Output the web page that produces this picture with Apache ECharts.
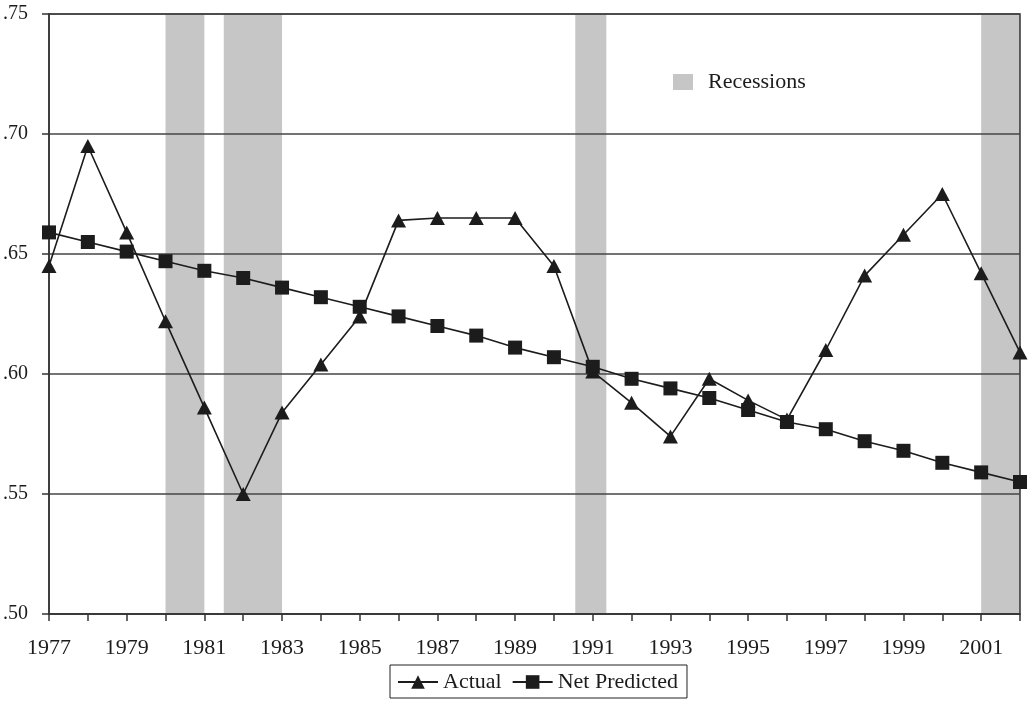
<!DOCTYPE html>
<html>
<head>
<meta charset="utf-8">
<script src="https://cdn.jsdelivr.net/npm/echarts@6/dist/echarts.min.js"></script>
<style>
  html, body { margin: 0; padding: 0; background: #fff; }
  #chart { width: 1028px; height: 701px; }
</style>
</head>
<body>
<div id="chart"></div>
<script>
// years on the x axis
const years = [1977, 1978, 1979, 1980, 1981, 1982, 1983, 1984, 1985, 1986, 1987, 1988, 1989,
  1990, 1991, 1992, 1993, 1994, 1995, 1996, 1997, 1998, 1999, 2000, 2001, 2002]

const actual = [0.645, 0.695, 0.659, 0.622, 0.586, 0.550, 0.584, 0.604, 0.624, 0.664, 0.665, 0.665, 0.665,
  0.645, 0.601, 0.588, 0.574, 0.598, 0.589, 0.581, 0.610, 0.641, 0.658, 0.675, 0.642, 0.609]

const netPredicted = [0.659, 0.655, 0.651, 0.647, 0.643, 0.640, 0.636, 0.632, 0.628, 0.624, 0.620, 0.616, 0.611,
  0.607, 0.603, 0.598, 0.594, 0.590, 0.585, 0.580, 0.577, 0.572, 0.568, 0.563, 0.559, 0.555]

// recession bands (start, end) in fractional years
const recessionStart = [1980, 1981.5, 1990.55, 2001]
const recessionEnd = [1981, 1983, 1991.35, 2002]

const yTicks = [0.50, 0.55, 0.60, 0.65, 0.70, 0.75]

const font = 'Liberation Serif'
const ink = '#1c1c1c'

const chart = echarts.init(document.getElementById('chart'))

chart.setOption({
  animation: false,
  grid: {
    left: 49, right: 8, top: 14, bottom: 87,
    outerBoundsMode: 'none',
    containLabel: false,
    show: true, borderColor: '#333', borderWidth: 1.5
  },
  legend: [
    {
      data: ['Actual', 'Net Predicted'],
      left: 390, top: 665,
      padding: [6, 9, 5, 7],
      itemGap: 10,
      itemWidth: 40, itemHeight: 17,
      borderColor: '#222', borderWidth: 1,
      textStyle: { fontFamily: font, fontSize: 22, color: ink }
    },
    {
      data: [{ name: 'Recessions', icon: 'rect' }],
      left: 673, top: 71,
      padding: 0,
      itemWidth: 20, itemHeight: 16,
      textStyle: { fontFamily: font, fontSize: 22, color: ink, padding: [0, 0, 0, 10] }
    }
  ],
  xAxis: {
    type: 'value',
    min: years[0], max: years[years.length - 1], interval: 1,
    axisLine: { show: true, lineStyle: { color: '#333', width: 1.5 } },
    axisTick: { show: true, length: 7, lineStyle: { color: '#333', width: 1.5 } },
    splitLine: { show: false },
    axisLabel: {
      margin: 23,
      fontFamily: font, fontSize: 22, color: ink,
      formatter: v => (v % 2 === 1 && v < years[years.length - 1]) ? String(v) : ''
    }
  },
  yAxis: {
    type: 'value',
    min: yTicks[0], max: yTicks[yTicks.length - 1], interval: 0.05,
    axisLine: { show: true, lineStyle: { color: '#333', width: 1.5 } },
    axisTick: { show: true, length: 7, lineStyle: { color: '#333', width: 1.5 } },
    splitLine: { show: true, lineStyle: { color: '#444', width: 1.5 } },
    axisLabel: {
      margin: 21,
      fontFamily: font, fontSize: 20, color: ink,
      formatter: v => v.toFixed(2).replace(/^0/, '')
    }
  },
  series: [
    {
      name: 'Recessions',
      type: 'custom',
      z: -1,
      itemStyle: { color: '#c6c6c6' },
      encode: { x: [0, 1] },
      data: recessionStart.map((s, i) => [s, recessionEnd[i]]),
      renderItem: (params, api) => {
        const a = api.coord([api.value(0), yTicks[0]])
        const b = api.coord([api.value(1), yTicks[0]])
        return {
          type: 'rect',
          shape: { x: a[0], y: params.coordSys.y, width: b[0] - a[0], height: params.coordSys.height },
          style: { fill: '#c6c6c6' }
        }
      }
    },
    {
      name: 'Actual',
      type: 'line',
      data: years.map((y, i) => [y, actual[i]]),
      symbol: 'triangle',
      symbolSize: [15, 14],
      lineStyle: { color: ink, width: 1.6 },
      itemStyle: { color: ink },
      z: 3
    },
    {
      name: 'Net Predicted',
      type: 'line',
      data: years.map((y, i) => [y, netPredicted[i]]),
      symbol: 'rect',
      symbolSize: 14,
      lineStyle: { color: ink, width: 1.6 },
      itemStyle: { color: ink },
      z: 4
    }
  ]
})

window.addEventListener('resize', () => {
  chart.resize()
})
</script>
</body>
</html>
